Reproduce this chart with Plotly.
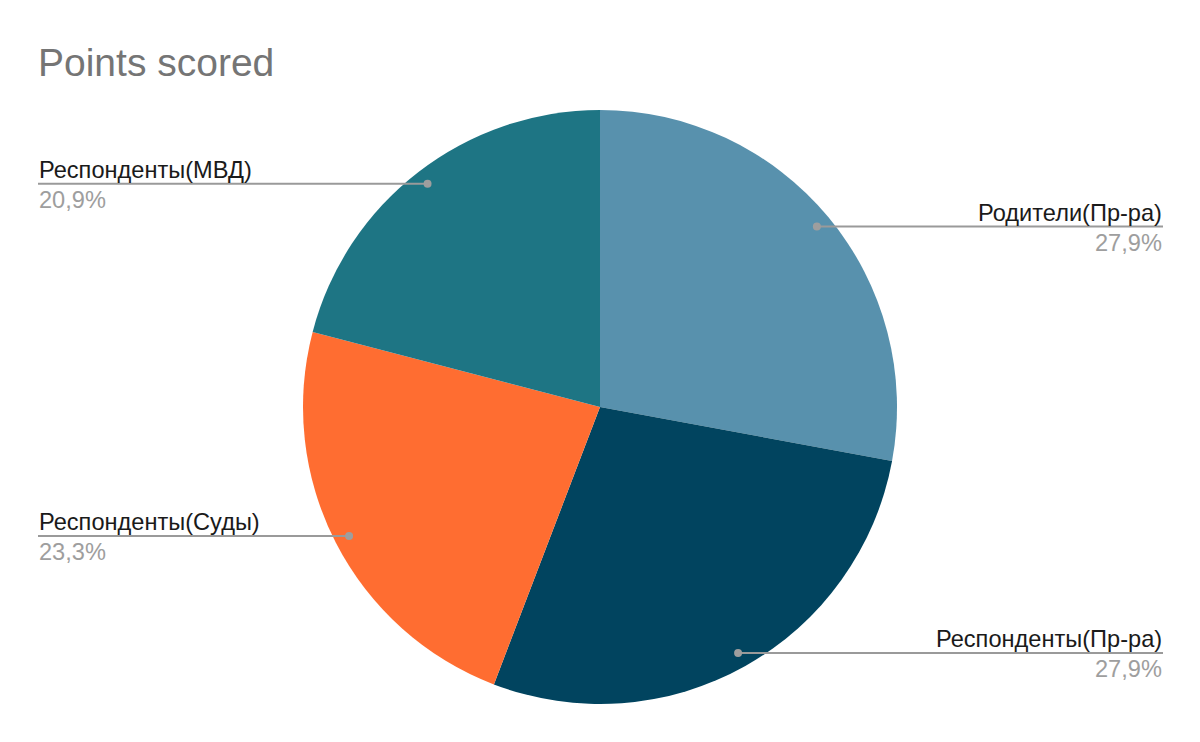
import math

import plotly.graph_objects as go

# data
labels = ["Родители(Пр-ра)", "Респонденты(Пр-ра)", "Респонденты(Суды)", "Респонденты(МВД)"]
points = [12, 12, 10, 9]
colors = ["#5891AD", "#01445F", "#FF6D31", "#1E7584"]

OFF = 8  # page body margin
W, H = 1200 - 2 * OFF, 742 - 2 * OFF
cx, cy, r = 600, 407, 297  # pie centre / radius in page pixels
FONT = "Liberation Sans, Arial, sans-serif"


def px(x, y):
    return (x - OFF) / W, 1 - (y - OFF) / H


fig = go.Figure()

dx0, dy1 = px(cx - r, cy - r)
dx1, dy0 = px(cx + r, cy + r)
fig.add_pie(
    labels=labels,
    values=points,
    sort=False,
    direction="clockwise",
    rotation=0,
    textinfo="none",
    hoverinfo="label+percent",
    marker=dict(colors=colors, line=dict(width=0)),
    domain=dict(x=[dx0, dx1], y=[dy0, dy1]),
    showlegend=False,
)

# leader lines and labels
total = sum(points)
shapes = []
annotations = []
acc = 0
for name, v in zip(labels, points):
    mid = (acc + v / 2) / total * 2 * math.pi
    acc += v
    dx = cx + 0.95 * r * math.sin(mid)
    dy = cy - 0.95 * r * math.cos(mid)
    right = math.sin(mid) > 0
    end = 1163 if right else 38
    x0, y0 = px(dx, dy)
    x1, _ = px(end, dy)
    shapes.append(dict(type="line", xref="paper", yref="paper", x0=x0, x1=x1, y0=y0, y1=y0,
                       line=dict(color="#9a9a9a", width=2)))
    rx, ry = 4 / W, 4 / H
    shapes.append(dict(type="circle", xref="paper", yref="paper", x0=x0 - rx, x1=x0 + rx,
                       y0=y0 - ry, y1=y0 + ry, fillcolor="#9e9e9e", line=dict(width=0)))
    anchor = "right" if right else "left"
    annotations.append(dict(text=name, x=x1, y=y0, xref="paper", yref="paper", xanchor=anchor,
                            yanchor="bottom", showarrow=False, yshift=0, borderpad=0,
                            font=dict(family=FONT, size=23.6, color="#1a1a1a")))
    pct = f"{v / total * 100:.1f}%".replace(".", ",")
    annotations.append(dict(text=pct, x=x1, y=y0, xref="paper", yref="paper", xanchor=anchor,
                            yanchor="top", showarrow=False, yshift=-2, borderpad=0,
                            font=dict(family=FONT, size=23.6, color="#9e9e9e")))

tx, ty = px(38, 62)
fig.update_layout(
    width=W,
    height=H,
    title=dict(text="Points scored", x=tx, xanchor="left", xref="paper",
               y=ty, yanchor="middle", yref="paper",
               font=dict(family=FONT, size=39, color="#757575")),
    shapes=shapes,
    annotations=annotations,
    margin=dict(l=0, r=0, t=0, b=0),
    paper_bgcolor="white",
    plot_bgcolor="white",
)

fig.write_html("out.html")
